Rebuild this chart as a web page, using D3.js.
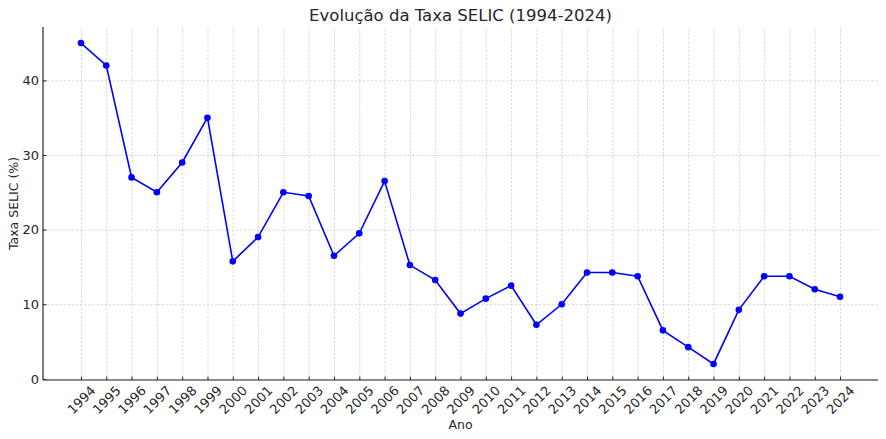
<!DOCTYPE html>
<html>
<head>
<meta charset="UTF-8">
<style>
    body { margin: 0; background: #fff; }
    svg text { font-family: "DejaVu Sans", sans-serif; fill: #262626; }
    .grid line { stroke: #cfcfcf; stroke-width: 0.8; stroke-dasharray: 2.5,1.6; }
    .grid path { display: none; }
</style>
<script src="https://cdn.jsdelivr.net/npm/d3@7"></script>
</head>
<body>
<script>
// Dados: taxa SELIC por ano
var anos = [1994, 1995, 1996, 1997, 1998, 1999, 2000, 2001, 2002, 2003,
            2004, 2005, 2006, 2007, 2008, 2009, 2010, 2011, 2012, 2013,
            2014, 2015, 2016, 2017, 2018, 2019, 2020, 2021, 2022, 2023, 2024];
var taxas = [45, 42, 27, 25, 29, 35, 15.75, 19, 25, 24.5,
             16.5, 19.5, 26.5, 15.25, 13.25, 8.75, 10.75, 12.5, 7.25, 10,
             14.25, 14.25, 13.75, 6.5, 4.25, 2, 9.25, 13.75, 13.75, 12, 11];
var yTicks = [0, 10, 20, 30, 40];

var W = 886, H = 439;
var margin = {top: 27, right: 8, bottom: 59, left: 43};

var svg = d3.select("body").append("svg")
    .attr("width", W)
    .attr("height", H);

// Escalas (margem de 5% como no matplotlib)
var x = d3.scaleLinear()
    .domain([1994 - 1.5, 2024 + 1.5])
    .range([margin.left, W - margin.right]);

var yMin = d3.min(taxas), yMax = d3.max(taxas), pad = (yMax - yMin) * 0.05;
var y = d3.scaleLinear()
    .domain([yMin - pad, yMax + pad])
    .range([H - margin.bottom, margin.top]);

// Grade
svg.append("g")
    .attr("class", "grid")
    .attr("transform", "translate(0," + (H - margin.bottom) + ")")
    .call(d3.axisBottom(x).tickValues(anos).tickSize(-(H - margin.bottom - margin.top)).tickFormat(""));

svg.append("g")
    .attr("class", "grid")
    .attr("transform", "translate(" + margin.left + ",0)")
    .call(d3.axisLeft(y).tickValues(yTicks).tickSize(-(W - margin.right - margin.left)).tickFormat(""));

// Eixo X
var gx = svg.append("g")
    .attr("transform", "translate(0," + (H - margin.bottom) + ")")
    .call(d3.axisBottom(x).tickValues(anos).tickSize(-3.5).tickSizeOuter(0).tickFormat(d3.format("d")));
gx.select(".domain").attr("stroke", "#262626").attr("stroke-width", 1.2)
    .attr("d", "M" + margin.left + ",0H" + (W - margin.right));
gx.selectAll(".tick line").attr("stroke", "#262626");
gx.selectAll(".tick text")
    .attr("y", null).attr("dy", null)
    .attr("font-size", 13)
    .attr("text-anchor", "middle")
    .attr("dominant-baseline", "central")
    .attr("transform", "translate(0,20) rotate(-45)");

// Eixo Y
var gy = svg.append("g")
    .attr("transform", "translate(" + margin.left + ",0)")
    .call(d3.axisLeft(y).tickValues(yTicks).tickSize(-3.5).tickSizeOuter(0));
gy.select(".domain").attr("stroke", "#262626").attr("stroke-width", 1.2)
    .attr("d", "M0," + margin.top + "V" + (H - margin.bottom));
gy.selectAll(".tick line").attr("stroke", "#262626");
gy.selectAll(".tick text").attr("x", -4).attr("font-size", 13);

// Linha
var line = d3.line()
    .x(function(d, i) { return x(anos[i]); })
    .y(function(d) { return y(d); });

svg.append("path")
    .datum(taxas)
    .attr("fill", "none")
    .attr("stroke", "#0000ff")
    .attr("stroke-width", 1.6)
    .attr("d", line);

svg.selectAll(".ponto")
    .data(taxas)
    .enter().append("circle")
    .attr("class", "ponto")
    .attr("cx", function(d, i) { return x(anos[i]); })
    .attr("cy", function(d) { return y(d); })
    .attr("r", 3.3)
    .attr("fill", "#0000ff");

// Títulos
var cx = (margin.left + W - margin.right) / 2;
svg.append("text")
    .attr("x", cx).attr("y", 21)
    .attr("text-anchor", "middle")
    .attr("font-size", 16.5)
    .text("Evolução da Taxa SELIC (1994-2024)");

svg.append("text")
    .attr("x", cx).attr("y", 429)
    .attr("text-anchor", "middle")
    .attr("font-size", 12.5)
    .text("Ano");

svg.append("text")
    .attr("transform", "translate(18," + ((margin.top + H - margin.bottom) / 2) + ") rotate(-90)")
    .attr("text-anchor", "middle")
    .attr("font-size", 12.5)
    .text("Taxa SELIC (%)");
</script>
</body>
</html>
